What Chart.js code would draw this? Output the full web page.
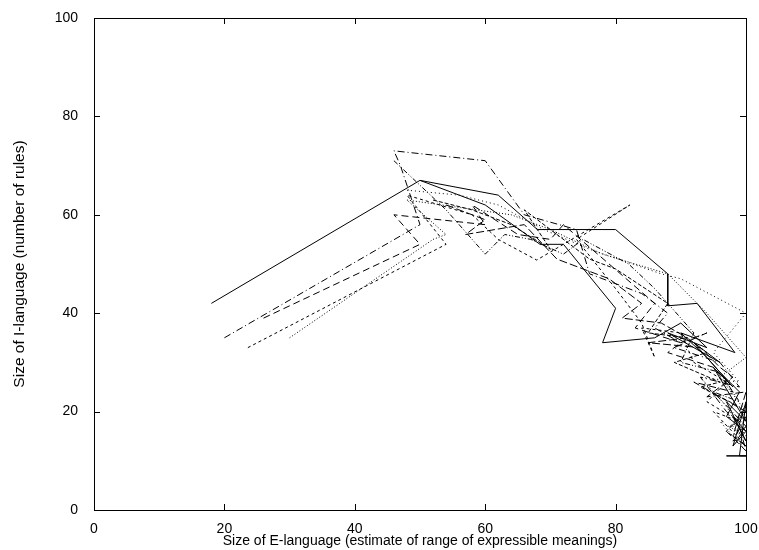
<!DOCTYPE html>
<html>
<head>
<meta charset="utf-8">
<script src="https://cdn.jsdelivr.net/npm/chart.js@4/dist/chart.umd.min.js"></script>
<style>
html,body{margin:0;padding:0;background:#fff;}
#wrap{width:759px;height:550px;position:relative;}
</style>
</head>
<body>
<div id="wrap"><canvas id="c" width="759" height="550"></canvas></div>
<script>
// ---- data ----
const xTicks = [0, 20, 40, 60, 80, 100];
const yTicks = [0, 20, 40, 60, 80, 100];
const xTitle = "Size of E-language (estimate of range of expressible meanings)";
const yTitle = "Size of I-language (number of rules)";

const run1X = [18, 50, 62, 68, 80, 88, 88, 92.5, 98.3, 90, 94, 96, 99, 97, 100, 98, 100, 99, 100, 97, 100];
const run1Y = [42, 67, 64, 57, 57, 48, 41.5, 42, 32, 36, 31, 28, 24, 19, 16, 13, 22, 11, 11, 11, 11];
const run2X = [50, 60, 68.4, 72, 80, 78, 86, 90, 94, 88, 96, 92, 98, 95, 100, 97, 100, 98, 100];
const run2Y = [67, 62, 54, 54, 41, 34, 35, 38, 33, 36, 30, 34, 25, 29, 18, 22, 14, 19, 16];
const run3X = [20, 50, 47, 46, 60, 66, 74, 76, 84, 88, 86, 90, 94, 89, 96, 99, 93, 97, 100, 98, 100];
const run3Y = [35, 58, 70, 73, 71, 60, 57, 48, 44, 40, 37, 34, 36, 33, 30, 25, 27, 20, 17, 14, 19];
const run4X = [23.6, 54, 48, 58, 62, 67.9, 82.2, 74, 80, 84, 86, 84, 90, 92, 97, 94, 99, 95, 100, 97, 100];
const run4Y = [33, 54, 64, 60, 55, 50.8, 62, 55, 45, 38, 31, 37, 36, 30, 26, 22, 18, 20, 13, 16, 21];
const run5X = [26, 50, 46, 60, 58, 65, 70, 72, 86, 83, 90, 88, 95, 98, 92, 100, 97, 100, 99];
const run5Y = [39, 54, 60, 58, 62, 56, 55, 58, 42, 37, 34, 32, 29, 24, 26, 20, 16, 12, 17];
const run6X = [30, 52, 54, 48, 64, 70, 78, 88, 94, 100, 96, 100, 98, 100];
const run6Y = [35, 55, 56, 63, 60, 57, 52, 48, 40, 31, 27, 20, 17, 14];
const run7X = [46, 54, 60, 63, 67, 72, 75, 82, 86, 92, 90, 96, 99, 95, 100, 98];
const run7Y = [71, 61, 52, 56, 55, 52, 55, 50, 45, 36, 30, 28, 22, 24, 17, 13];
const run8X = [48, 56, 62, 69, 76, 87, 90, 100, 95, 99, 93, 97, 100, 96, 100];
const run8Y = [65, 64, 62, 57, 53, 48, 47, 40, 32, 26, 27, 21, 15, 18, 12];
const run9X = [52, 58, 64, 70, 66, 76, 80, 88, 85, 91, 94, 89, 96, 93, 99, 100];
const run9Y = [63, 61, 58, 53, 61, 51, 49, 42, 36, 35, 32, 30, 26, 25, 21, 18];
const run10X = [54, 60, 57, 66, 71, 79, 84, 81, 87, 91, 85, 93, 96, 98, 94, 100, 98, 100];
const run10Y = [62, 59, 56, 58, 51, 47, 42, 39, 38, 35, 34, 33, 29, 27, 23, 24, 15, 13];

// ---- chart ----
const runs = [
  {x: run1X, y: run1Y, dash: []},
  {x: run2X, y: run2Y, dash: []},
  {x: run3X, y: run3Y, dash: [7, 3, 1, 3]},
  {x: run4X, y: run4Y, dash: [3, 3]},
  {x: run5X, y: run5Y, dash: [7, 4]},
  {x: run6X, y: run6Y, dash: [1, 2]},
  {x: run7X, y: run7Y, dash: [5, 2, 1, 2, 1, 2]},
  {x: run8X, y: run8Y, dash: [1, 3]},
  {x: run9X, y: run9Y, dash: [4, 2]},
  {x: run10X, y: run10Y, dash: [8, 3]}
];

const datasets = runs.map((r, i) => ({
  label: 'run ' + (i + 1),
  data: r.x.map((v, k) => ({x: v, y: r.y[k]})),
  borderColor: '#000',
  borderWidth: 1,
  borderDash: r.dash,
  pointRadius: 0,
  fill: false,
  tension: 0
}));

const frame = {
  id: 'frame',
  afterDraw(chart) {
    const {ctx, chartArea: a, scales} = chart;
    ctx.save();
    ctx.strokeStyle = '#000';
    ctx.lineWidth = 1;
    ctx.setLineDash([]);
    ctx.beginPath();
    const L = 6;
    xTicks.forEach(v => {
      const px = Math.round(scales.x.getPixelForValue(v)) + 0.5;
      ctx.moveTo(px, a.bottom); ctx.lineTo(px, a.bottom - L);
      ctx.moveTo(px, a.top); ctx.lineTo(px, a.top + L);
    });
    yTicks.forEach(v => {
      const py = Math.round(scales.y.getPixelForValue(v)) + 0.5;
      ctx.moveTo(a.left, py); ctx.lineTo(a.left + L, py);
      ctx.moveTo(a.right, py); ctx.lineTo(a.right - L, py);
    });
    ctx.stroke();
    ctx.strokeRect(Math.round(a.left) + 0.5, Math.round(a.top) + 0.5,
                   Math.round(a.right - a.left), Math.round(a.bottom - a.top));
    ctx.restore();
  }
};

new Chart(document.getElementById('c'), {
  type: 'line',
  data: {datasets},
  options: {
    responsive: false,
    animation: false,
    layout: {padding: {left: 0, top: 18, right: 13, bottom: 0}},
    plugins: {legend: {display: false}, tooltip: {enabled: false}},
    scales: {
      x: {
        type: 'linear', min: 0, max: 100,
        afterBuildTicks: s => { s.ticks = xTicks.map(v => ({value: v})); },
        afterFit: s => { s.height = 40; s.paddingLeft = 0; s.paddingRight = 0; },
        grid: {display: false},
        border: {display: false},
        ticks: {color: '#000', padding: 3, maxRotation: 0,
                font: {family: 'Liberation Sans', size: 14}},
        title: {display: true, text: xTitle, color: '#000', padding: 0,
                font: {family: 'Liberation Sans', size: 14}}
      },
      y: {
        type: 'linear', min: 0, max: 100,
        afterBuildTicks: s => { s.ticks = yTicks.map(v => ({value: v})); },
        afterFit: s => { s.width = 94; s.paddingTop = 0; s.paddingBottom = 0; },
        grid: {display: false},
        border: {display: false},
        ticks: {color: '#000', padding: 8,
                font: {family: 'Liberation Sans', size: 14}},
        title: {display: true, text: yTitle, color: '#000', padding: {top: 10, bottom: 0},
                font: {family: 'Liberation Sans', size: 15.5}}
      }
    }
  },
  plugins: [frame]
});
</script>
</body>
</html>
